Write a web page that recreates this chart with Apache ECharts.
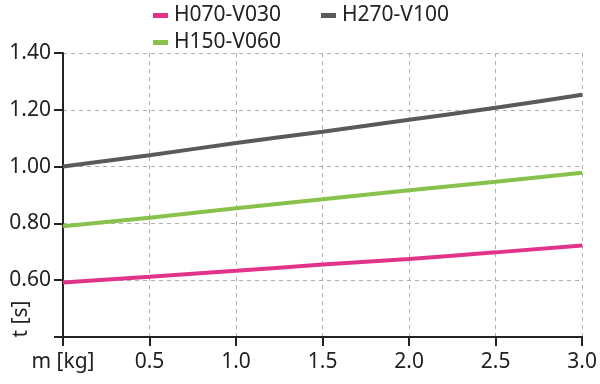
<!DOCTYPE html>
<html>
<head>
<meta charset="utf-8">
<script src="https://cdn.jsdelivr.net/npm/echarts@6/dist/echarts.min.js"></script>
<style>html,body{margin:0;padding:0;background:#fff}#c{width:600px;height:384px}</style>
</head>
<body>
<div id="c"></div>
<script>
var mValues = [0, 0.5, 1.0, 1.5, 2.0, 2.5, 3.0];
var seriesNames = ['H070-V030', 'H270-V100', 'H150-V060'];
var h070 = [0.592, 0.612, 0.633, 0.655, 0.675, 0.698, 0.722];
var h270 = [1.000, 1.040, 1.083, 1.123, 1.165, 1.207, 1.253];
var h150 = [0.790, 0.820, 0.853, 0.885, 0.917, 0.947, 0.978];
var colors = ['#e2338b', '#5a5a5c', '#88c14b'];
var xTickLabels = ['m [kg]', '0.5', '1.0', '1.5', '2.0', '2.5', '3.0'];
var yTickLabels = ['', '0.60', '0.80', '1.00', '1.20', '1.40'];

function pairs(arr){ return mValues.map(function(m,i){ return [m, arr[i]]; }); }
var font = 'Noto Sans';
var chart = echarts.init(document.getElementById('c'));
var lineSeries = [h070, h270, h150].map(function(arr, i){
  return {
    name: seriesNames[i], type: 'line', data: pairs(arr), smooth: true,
    showSymbol: false, symbol: 'none',
    lineStyle: {color: colors[i], width: 4}, itemStyle: {color: colors[i]}
  };
});
chart.setOption({
  animation: false,
  textStyle: {fontFamily: font},
  grid: {left: 63, right: 16, top: 53, bottom: 47},
  legend: [
    {left: 148, top: 0, itemGap: 40, itemWidth: 15, itemHeight: 5, icon: 'rect',
     data: [seriesNames[0], seriesNames[1]],
     textStyle: {fontSize: 21, color: '#222', fontFamily: font, padding: [0,0,0,1]}},
    {left: 148, top: 27, itemWidth: 15, itemHeight: 5, icon: 'rect',
     data: [seriesNames[2]],
     textStyle: {fontSize: 21, color: '#222', fontFamily: font, padding: [0,0,0,1]}}
  ],
  xAxis: {
    type: 'value', min: 0, max: 3, interval: 0.5,
    axisLine: {lineStyle: {color: '#222', width: 2}},
    axisTick: {length: 9, lineStyle: {color: '#222', width: 2}},
    axisLabel: {fontSize: 21, color: '#222', margin: 15,
      formatter: function(v){ return xTickLabels[Math.round(v/0.5)]; }},
    splitLine: {show: true, lineStyle: {color: '#b0b0b0', type: [4,4], width: 1}}
  },
  yAxis: {
    type: 'value', min: 0.4, max: 1.4, interval: 0.2,
    axisLine: {show: true, lineStyle: {color: '#222', width: 2}},
    axisTick: {show: true, length: 9, lineStyle: {color: '#222', width: 2}},
    axisLabel: {fontSize: 21, color: '#222', margin: 12,
      formatter: function(v){ return yTickLabels[Math.round((v-0.4)/0.2)]; }},
    splitLine: {show: true, lineStyle: {color: '#b0b0b0', type: [4,4], width: 1}}
  },
  graphic: [{
    type: 'text', x: 21, y: 319, rotation: Math.PI/2,
    style: {text: 't [s]', fontSize: 21, fill: '#222', fontFamily: font,
      textAlign: 'center', textVerticalAlign: 'middle'}
  }],
  series: lineSeries
});
</script>
</body>
</html>
